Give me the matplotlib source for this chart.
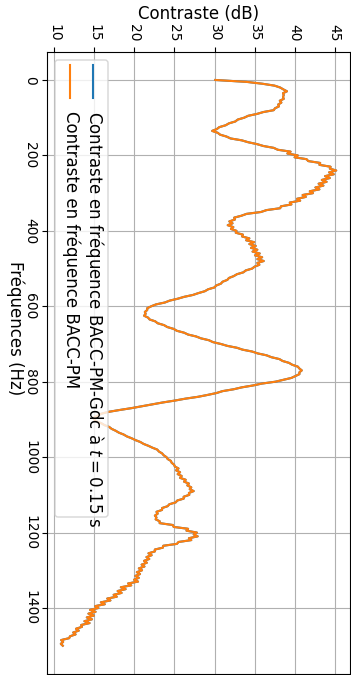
import numpy as np
import matplotlib
matplotlib.use("Agg")
import matplotlib.pyplot as plt
from matplotlib.patches import FancyBboxPatch
from matplotlib.lines import Line2D
from matplotlib.transforms import IdentityTransform

# ---- data (contrast in dB sampled every 5 Hz from 0 to 1500 Hz) ----
contrast_pm = [
    30.1, 34.0, 36.0, 37.5, 38.2, 38.6, 39.05, 38.55, 38.65, 38.55,
    38.65, 38.15, 38.35, 37.95, 38.05, 37.55, 37.4, 36.1, 35.3, 34.2,
    33.7, 32.9, 32.6, 31.8, 31.4, 30.6, 30.3, 29.7, 30.4, 30.7,
    31.5, 32.0, 33.4, 34.2, 35.3, 36.1, 37.4, 37.9, 39.5, 39.1,
    40.4, 40.0, 41.5, 41.7, 43.2, 43.1, 44.5, 44.4, 45.2, 44.3,
    44.9, 43.8, 44.4, 43.4, 44.0, 43.0, 43.6, 42.6, 43.1, 41.9,
    42.3, 41.0, 41.4, 40.3, 40.7, 39.4, 39.6, 38.3, 38.2, 36.5,
    35.8, 34.0, 33.35, 32.45, 32.55, 31.85, 32.25, 31.65, 32.35, 32.05,
    32.75, 32.65, 33.55, 33.45, 34.35, 33.95, 34.95, 34.35, 35.15, 34.55,
    35.35, 34.75, 35.65, 35.05, 35.95, 35.35, 36.15, 35.35, 35.6, 35.0,
    34.7, 33.9, 33.6, 32.8, 32.4, 31.8, 31.6, 31.0, 30.8, 30.2,
    30.0, 29.2, 28.8, 28.0, 27.3, 26.2, 25.4, 24.4, 23.8, 22.7,
    22.1, 21.6, 21.6, 21.3, 21.4, 21.2, 21.7, 21.9, 22.6, 22.9,
    23.7, 24.1, 24.9, 25.3, 26.2, 26.7, 27.7, 28.3, 29.3, 29.8,
    30.8, 31.6, 32.8, 33.5, 34.7, 35.4, 36.5, 37.1, 38.1, 38.5,
    39.3, 39.7, 40.4, 40.6, 40.9, 40.6, 40.6, 40.1, 39.6, 38.6,
    37.6, 35.9, 34.8, 33.4, 32.4, 31.0, 30.25, 29.15, 27.95, 26.35,
    25.05, 23.55, 22.25, 20.95, 19.65, 18.15, 16.75, 15.85, 15.45, 14.95,
    14.95, 15.25, 15.85, 16.25, 16.85, 17.15, 17.65, 18.05, 18.65, 19.05,
    19.65, 20.15, 20.75, 21.15, 21.75, 22.25, 22.85, 23.05, 23.45, 23.65,
    24.0, 24.15, 24.55, 24.65, 24.95, 25.05, 25.5, 25.2, 25.7, 25.4,
    25.9, 25.7, 26.4, 26.2, 26.8, 26.6, 27.1, 26.9, 27.4, 26.8,
    26.85, 26.15, 26.15, 25.35, 25.15, 24.35, 24.15, 23.45, 23.45, 22.75,
    22.9, 22.55, 22.75, 22.65, 23.15, 23.15, 24.8, 24.9, 26.7, 26.5,
    27.8, 27.4, 27.9, 26.8, 27.1, 25.5, 25.3, 23.6, 23.55, 22.55,
    22.55, 21.75, 22.15, 21.5, 21.85, 21.2, 21.55, 20.9, 21.25, 20.55,
    20.95, 20.3, 20.7, 20.1, 20.55, 19.95, 20.45, 19.2, 19.6, 18.3,
    18.9, 17.9, 18.4, 17.4, 17.8, 16.6, 17.0, 15.8, 16.3, 15.1,
    15.5, 14.45, 15.15, 14.25, 14.95, 14.05, 14.7, 13.75, 14.4, 13.35,
    13.45, 12.7, 13.05, 12.35, 12.65, 11.95, 11.85, 10.85, 11.1, 10.8,
    11.05,
]
contrast_gdc = list(contrast_pm)  # hidden under the orange curve
freq_start, freq_stop = 0, 1500
frequencies = np.linspace(freq_start, freq_stop, len(contrast_pm))

x_ticks = [10, 15, 20, 25, 30, 35, 40, 45]
y_ticks = [0, 200, 400, 600, 800, 1000, 1200, 1400]

label_gdc = r"Contraste en fréquence BACC-PM-Gdc à $t = 0.15$ s"
label_pm = "Contraste en fréquence BACC-PM"
xlabel = "Contraste (dB)"
ylabel = "Fréquences (Hz)"

# ---- figure ----
W, H = 351, 675
fig = plt.figure(figsize=(W / 100, H / 100), dpi=100)
ax = fig.add_axes([47 / W, 1 / H, 303 / W, 622.3 / H])

ax.plot(contrast_gdc, frequencies, color="#1f77b4", lw=1.5)
ax.plot(contrast_pm, frequencies, color="#ff7f0e", lw=1.5)

ax.invert_yaxis()
ax.grid(True)
ax.set_xticks(x_ticks)
ax.set_yticks(y_ticks)
ax.xaxis.tick_top()
ax.xaxis.set_label_position("top")
ax.tick_params(axis="both", labelsize=10)
ax.tick_params(axis="x", labelrotation=-90)
ax.tick_params(axis="y", labelrotation=-90)
for lab in ax.get_yticklabels():
    lab.set_va("center")
ax.set_xlabel(xlabel, fontsize=12)
ax.set_ylabel(ylabel, fontsize=12, rotation=-90, ha="center", va="center")
ax.yaxis.set_label_coords(-0.106, 0.555)

# ---- manual legend (rotated) ----
T = IdentityTransform()
def dy(y):
    return H - y

box = FancyBboxPatch((55, dy(517)), 53, 457,
                     boxstyle="round,pad=0,rounding_size=3",
                     facecolor="white", edgecolor="0.8", alpha=0.8,
                     lw=1.0, transform=T, zorder=5)
fig.add_artist(box)
for xc, col, txt in [(93, "#1f77b4", label_gdc), (69.5, "#ff7f0e", label_pm)]:
    fig.add_artist(Line2D([xc, xc], [dy(65), dy(98)], color=col, lw=1.5,
                          transform=T, zorder=6))
    fig.text(xc + 1.5, dy(111), txt, rotation=-90, ha="center", va="top",
             fontsize=12, transform=T, zorder=6)

fig.savefig("out.png", dpi=100)
